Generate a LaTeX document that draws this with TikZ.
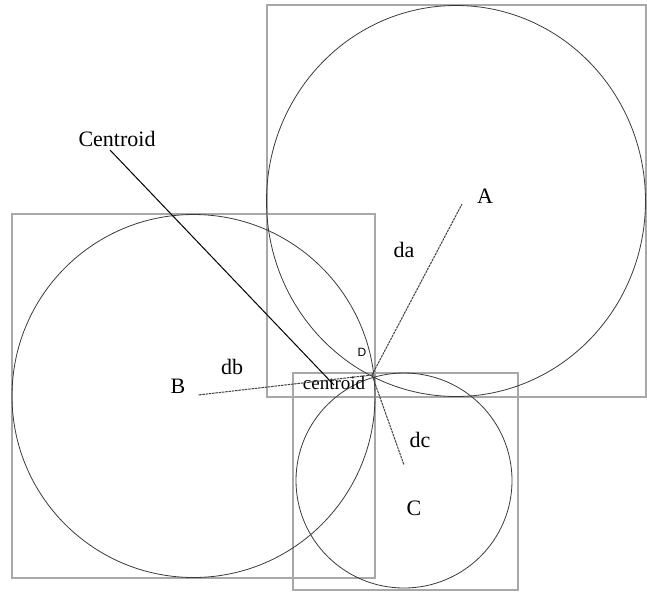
\documentclass[tikz,border=0pt]{standalone}
\usepackage{fontspec}
\setmainfont{Liberation Serif}
\newfontfamily\sanslabel{Liberation Sans}
\usepackage{xcolor}
\definecolor{cFrame}{HTML}{A8A8A8}
\definecolor{cCircle}{HTML}{3A3A3A}
\definecolor{cDist}{HTML}{404040}
\usetikzlibrary{positioning,calc}
\tikzset{
  frame-box/.style={draw=cFrame,line width=1.1pt},
  region-circle/.style={draw=cCircle,line width=0.8pt},
  dist-line/.style={draw=cDist,line width=1pt,dash pattern=on 2.5pt off 0.8pt},
  centroid-line/.style={draw=black,line width=1pt},
  label-big/.style={inner sep=0pt,font=\fontsize{22}{25}\selectfont},
  label-small/.style={inner sep=0pt,font=\sanslabel\fontsize{12}{13}\selectfont},
}

\begin{document}
\begin{tikzpicture}[x=1pt,y=-1pt]
  \useasboundingbox (0,0) rectangle (647,592);
  % regions: bounding squares and circles
  \draw[frame-box] (267,5) rectangle (646,397);
  \draw[frame-box] (12,214) rectangle (375,578);
  \draw[frame-box] (293,373) rectangle (518,590);
  \draw[region-circle] (456,201) ellipse [x radius=189.5,y radius=195.5];
  \draw[region-circle] (193.5,396) circle (181.5);
  \draw[region-circle] (404,480.5) ellipse [x radius=108,y radius=107.5];

  % points
  \coordinate (pd) at (372,375);
  \coordinate (pa) at (462,204);
  \coordinate (pb) at (198,395);
  \coordinate (pc) at (404,465);
  \coordinate (pcen) at (110,150);
  \coordinate (pcenEnd) at (334,385);

  % labels
  \node[label-big] (labA)   at (485,196) {A};
  \node[label-big] (labB)   at (178,386) {B};
  \node[label-big] (labC)   at (414,508) {C};
  \node[label-big] (labda)  at (404,250) {da};
  \node[label-big] (labdb)  at (232,367) {db};
  \node[label-big] (labdc)  at (420,440) {dc};
  \node[label-big] (labCen) at (117,139) {Centroid};
  \node[label-small] (labD) at (362,352) {D};
  \node[label-big,font=\fontsize{19}{21}\selectfont] (labcen) at (334,383) {centroid};

  % distances
  \draw[dist-line] (pd) -- (pa);
  \draw[dist-line] (pd) -- (pb);
  \draw[dist-line] (pd) -- (pc);
  \draw[centroid-line] (pcen) -- (pcenEnd);
\end{tikzpicture}
\end{document}
